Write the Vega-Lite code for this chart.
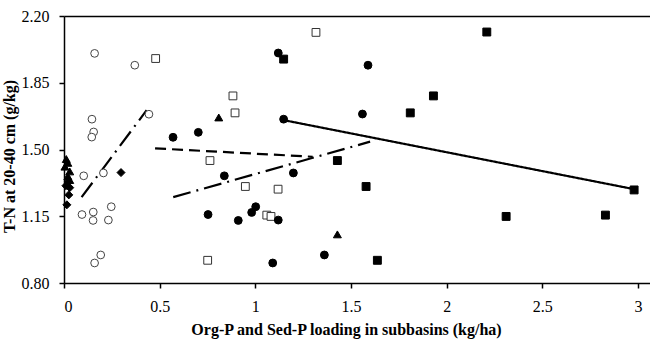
{
  "$schema": "https://vega.github.io/schema/vega-lite/v6.json",
  "width": 586,
  "height": 267,
  "autosize": {"type": "none"},
  "padding": {"left": 64, "top": 16, "right": 0, "bottom": 58},
  "background": "white",
  "config": {
    "view": {"stroke": null},
    "font": "Liberation Serif",
    "axis": {"grid": false, "domainColor": "black", "domainWidth": 1.5, "tickColor": "black", "tickWidth": 1.5, "tickSize": 5, "labelColor": "black", "labelFont": "Liberation Serif", "labelFontSize": 16, "titleFont": "Liberation Serif", "titleFontSize": 16, "titleFontWeight": "bold", "titleColor": "black"}
  },
  "datasets": {
    "points": [
      {"x": 0.160, "y": 2.004, "g": "oc"},
      {"x": 0.370, "y": 1.942, "g": "oc"},
      {"x": 0.146, "y": 1.659, "g": "oc"},
      {"x": 0.155, "y": 1.592, "g": "oc"},
      {"x": 0.145, "y": 1.565, "g": "oc"},
      {"x": 0.444, "y": 1.685, "g": "oc"},
      {"x": 0.103, "y": 1.362, "g": "oc"},
      {"x": 0.206, "y": 1.377, "g": "oc"},
      {"x": 0.094, "y": 1.159, "g": "oc"},
      {"x": 0.153, "y": 1.172, "g": "oc"},
      {"x": 0.152, "y": 1.128, "g": "oc"},
      {"x": 0.247, "y": 1.200, "g": "oc"},
      {"x": 0.232, "y": 1.130, "g": "oc"},
      {"x": 0.192, "y": 0.947, "g": "oc"},
      {"x": 0.160, "y": 0.905, "g": "oc"},
      {"x": 0.479, "y": 1.977, "g": "os"},
      {"x": 0.883, "y": 1.781, "g": "os"},
      {"x": 0.894, "y": 1.692, "g": "os"},
      {"x": 1.317, "y": 2.114, "g": "os"},
      {"x": 0.763, "y": 1.442, "g": "os"},
      {"x": 0.948, "y": 1.306, "g": "os"},
      {"x": 0.751, "y": 0.919, "g": "os"},
      {"x": 1.119, "y": 1.292, "g": "os"},
      {"x": 1.060, "y": 1.156, "g": "os"},
      {"x": 1.082, "y": 1.149, "g": "os"},
      {"x": 0.570, "y": 1.564, "g": "fc"},
      {"x": 0.702, "y": 1.590, "g": "fc"},
      {"x": 1.120, "y": 2.006, "g": "fc"},
      {"x": 1.589, "y": 1.942, "g": "fc"},
      {"x": 1.560, "y": 1.686, "g": "fc"},
      {"x": 1.148, "y": 1.659, "g": "fc"},
      {"x": 1.199, "y": 1.377, "g": "fc"},
      {"x": 0.838, "y": 1.362, "g": "fc"},
      {"x": 0.753, "y": 1.159, "g": "fc"},
      {"x": 0.911, "y": 1.128, "g": "fc"},
      {"x": 0.981, "y": 1.170, "g": "fc"},
      {"x": 1.002, "y": 1.200, "g": "fc"},
      {"x": 1.120, "y": 1.130, "g": "fc"},
      {"x": 1.091, "y": 0.905, "g": "fc"},
      {"x": 1.361, "y": 0.947, "g": "fc"},
      {"x": 1.148, "y": 1.974, "g": "fs"},
      {"x": 1.931, "y": 1.781, "g": "fs"},
      {"x": 1.810, "y": 1.692, "g": "fs"},
      {"x": 2.210, "y": 2.116, "g": "fs"},
      {"x": 1.429, "y": 1.442, "g": "fs"},
      {"x": 1.579, "y": 1.306, "g": "fs"},
      {"x": 1.638, "y": 0.919, "g": "fs"},
      {"x": 2.980, "y": 1.288, "g": "fs"},
      {"x": 2.311, "y": 1.149, "g": "fs"},
      {"x": 2.830, "y": 1.156, "g": "fs"},
      {"x": 0.809, "y": 1.668, "g": "ft"},
      {"x": 1.429, "y": 1.055, "g": "ft"},
      {"x": 0.012, "y": 1.450, "g": "ft"},
      {"x": 0.020, "y": 1.430, "g": "ft"},
      {"x": 0.005, "y": 1.410, "g": "ft"},
      {"x": 0.030, "y": 1.385, "g": "ft"},
      {"x": 0.020, "y": 1.360, "g": "ft"},
      {"x": 0.030, "y": 1.340, "g": "ft"},
      {"x": 0.298, "y": 1.379, "g": "fd"},
      {"x": 0.022, "y": 1.330, "g": "fd"},
      {"x": 0.010, "y": 1.310, "g": "fd"},
      {"x": 0.030, "y": 1.300, "g": "fd"},
      {"x": 0.025, "y": 1.262, "g": "fd"},
      {"x": 0.015, "y": 1.210, "g": "fd"}
    ],
    "lines": [
      {"x": 0.092, "y": 1.250, "g": "a"},
      {"x": 0.432, "y": 1.706, "g": "a"},
      {"x": 0.476, "y": 1.506, "g": "b"},
      {"x": 1.300, "y": 1.462, "g": "b"},
      {"x": 0.571, "y": 1.250, "g": "c"},
      {"x": 1.600, "y": 1.541, "g": "c"},
      {"x": 1.148, "y": 1.654, "g": "d"},
      {"x": 2.980, "y": 1.292, "g": "d"}
    ]
  },
  "layer": [
    {
      "data": {"name": "lines"},
      "mark": {"type": "line", "color": "black", "strokeWidth": 2.2},
      "encoding": {
        "x": {"field": "x", "type": "quantitative", "scale": {"domain": [0, 3.063], "nice": false, "zero": false},
              "axis": {"orient": "bottom", "values": [0, 0.5, 1, 1.5, 2, 2.5, 3], "format": "~g", "labelPadding": 10, "title": "Org-P and Sed-P loading in subbasins (kg/ha)", "titlePadding": 7, "titleX": 282}},
        "y": {"field": "y", "type": "quantitative", "scale": {"domain": [0.8, 2.2], "nice": false, "zero": false},
              "axis": {"values": [0.8, 1.15, 1.5, 1.85, 2.2], "format": ".2f", "labelPadding": 10, "title": "T-N at 20-40 cm (g/kg)", "titleX": -47, "titleY": 140}},
        "detail": {"field": "g"},
        "strokeDash": {"field": "g", "type": "nominal", "legend": null,
                       "scale": {"domain": ["a", "b", "c", "d"], "range": [[18, 6, 2, 6], [11, 6], [18, 6, 2, 6], [1, 0]]}}
      }
    },
    {
      "data": {"name": "points"},
      "mark": {"type": "point", "filled": true, "strokeWidth": 1, "opacity": 1},
      "encoding": {
        "x": {"field": "x", "type": "quantitative", "scale": {"domain": [0, 3.063], "nice": false, "zero": false},
              "axis": {"orient": "top", "labels": false, "ticks": false, "title": null}},
        "y": {"field": "y", "type": "quantitative"},
        "shape": {"field": "g", "type": "nominal", "legend": null,
                  "scale": {"domain": ["oc", "os", "fc", "fs", "ft", "fd"], "range": ["circle", "square", "circle", "square", "triangle-up", "diamond"]}},
        "fill": {"field": "g", "type": "nominal", "legend": null,
                 "scale": {"domain": ["oc", "os", "fc", "fs", "ft", "fd"], "range": ["white", "white", "black", "black", "black", "black"]}},
        "stroke": {"field": "g", "type": "nominal", "legend": null,
                   "scale": {"domain": ["oc", "os", "fc", "fs", "ft", "fd"], "range": ["#444444", "#333333", "black", "black", "black", "black"]}},
        "size": {"field": "g", "type": "nominal", "legend": null,
                 "scale": {"domain": ["oc", "os", "fc", "fs", "ft", "fd"], "range": [60, 64, 70, 64, 70, 60]}}
      }
    }
  ],
  "resolve": {"axis": {"x": "independent"}}
}
